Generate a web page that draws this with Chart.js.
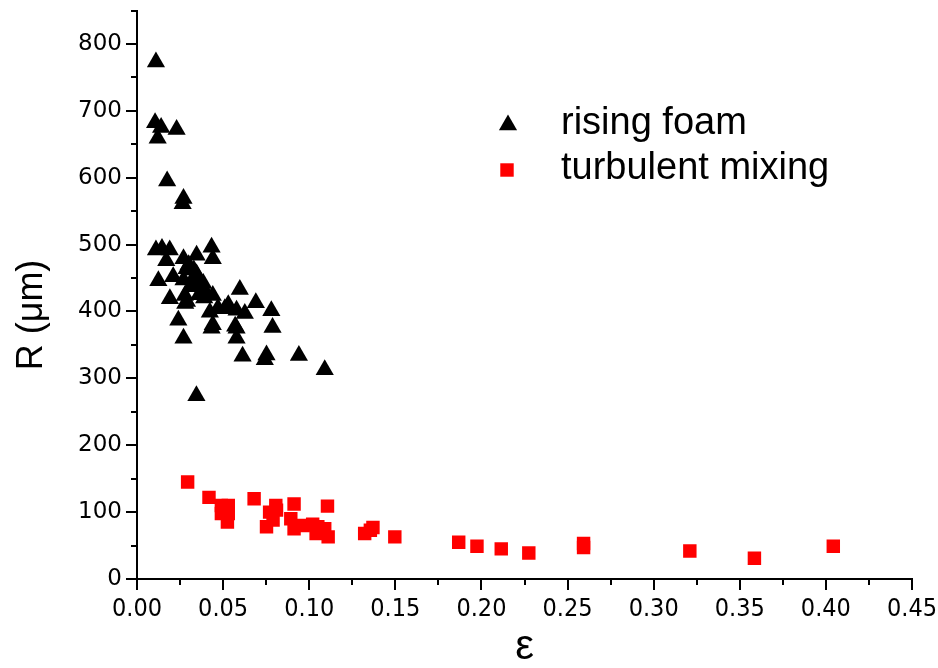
<!DOCTYPE html>
<html>
<head>
<meta charset="utf-8">
<script src="https://cdn.jsdelivr.net/npm/chart.js"></script>
<style>
  html, body { margin: 0; padding: 0; background: #fff; }
  #wrap { width: 938px; height: 668px; }
</style>
</head>
<body>
<div id="wrap"><canvas id="bubbleChart" width="938" height="668"></canvas></div>
<script>
// rising foam (black triangles)
const foamEps = [0.011, 0.0105, 0.014, 0.012, 0.023, 0.0175, 0.027, 0.0265, 0.011, 0.0145,
  0.019, 0.017, 0.027, 0.0346, 0.0433, 0.044, 0.0124, 0.021, 0.0288, 0.027,
  0.0346, 0.0191, 0.0278, 0.028, 0.0385, 0.0404, 0.044, 0.0423, 0.051, 0.0578,
  0.0626, 0.024, 0.0433, 0.0578, 0.0578, 0.027, 0.0597, 0.069, 0.078, 0.0787,
  0.0613, 0.0752, 0.0742, 0.094, 0.109, 0.0345, 0.031, 0.038, 0.0325, 0.029,
  0.044, 0.057, 0.033, 0.036, 0.030, 0.034, 0.039, 0.047, 0.053, 0.036];
const foamR = [773, 682, 675, 659, 672, 595, 569, 561, 492, 494,
  492, 476, 479, 484, 496, 479, 446, 452, 464, 447,
  456, 419, 424, 412, 442, 427, 424, 399, 404, 402,
  397, 387, 375, 375, 360, 360, 433, 413, 401, 376,
  333, 335, 328, 334, 313, 274, 437, 431, 449, 415,
  380, 378, 462, 440, 470, 445, 420, 405, 410, 425];

// turbulent mixing (red squares)
const mixEps = [0.0294, 0.0418, 0.049, 0.053, 0.049, 0.053, 0.0525, 0.068, 0.0806, 0.081,
  0.077, 0.079, 0.0752, 0.0912, 0.0893, 0.0912, 0.0965, 0.102, 0.105, 0.104,
  0.1106, 0.109, 0.111, 0.1322, 0.1355, 0.137, 0.1497, 0.1868, 0.1974, 0.2115,
  0.2275, 0.2593, 0.2593, 0.321, 0.3585, 0.4043];
const mixR = [145, 122, 110, 110, 98, 98, 85, 120, 110, 103,
  100, 88, 78, 112, 90, 75, 80, 82, 78, 68,
  109, 75, 63, 68, 73, 77, 63, 55, 49, 45,
  39, 53, 47, 42, 31, 49];

const seriesNames = ['rising foam', 'turbulent mixing'];
const xTitle = 'ε';
const yTitle = 'R (μm)';

function toPoints(xs, ys) {
  return xs.map((x, i) => ({ x: x, y: ys[i] }));
}

// kleine Zwischenstriche an beiden Achsen
const minorTicks = {
  id: 'minorTicks',
  afterDraw(chart) {
    const ctx = chart.ctx;
    const xs = chart.scales.x;
    const ys = chart.scales.y;
    ctx.save();
    ctx.strokeStyle = '#000';
    ctx.lineWidth = 2;
    ctx.beginPath();
    const xt = xs.ticks.map(t => t.value);
    for (let i = 0; i < xt.length - 1; i++) {
      const px = Math.round(xs.getPixelForValue((xt[i] + xt[i + 1]) / 2));
      ctx.moveTo(px, xs.top);
      ctx.lineTo(px, xs.top + 6);
    }
    const yt = ys.ticks.map(t => t.value);
    const step = yt[1] - yt[0];
    const mids = [];
    for (let i = 0; i < yt.length - 1; i++) mids.push((yt[i] + yt[i + 1]) / 2);
    mids.push(yt[yt.length - 1] + step / 2);
    mids.forEach(v => {
      const py = Math.round(ys.getPixelForValue(v));
      ctx.moveTo(ys.right, py);
      ctx.lineTo(ys.right - 6, py);
    });
    ctx.stroke();
    ctx.restore();
  }
};

function drawMarker(ctx, style, r, x, y) {
  ctx.beginPath();
  if (style === 'triangle') {
    let a = 0;
    ctx.moveTo(x + Math.sin(a) * r, y - Math.cos(a) * r);
    a += Math.PI * 2 / 3;
    ctx.lineTo(x + Math.sin(a) * r, y - Math.cos(a) * r);
    a += Math.PI * 2 / 3;
    ctx.lineTo(x + Math.sin(a) * r, y - Math.cos(a) * r);
    ctx.closePath();
  } else {
    const s = Math.SQRT1_2 * r;
    ctx.rect(x - s, y - s, 2 * s, 2 * s);
  }
  ctx.fill();
}

// Legende im Plotbereich und y-Achsentitel
const innerLegend = {
  id: 'innerLegend',
  afterDraw(chart) {
    const ctx = chart.ctx;
    ctx.save();
    const rows = [
      { mx: 508, my: 125, ty: 134 },
      { mx: 507, my: 170, ty: 179 }
    ];
    chart.data.datasets.forEach((ds, i) => {
      const r = rows[i];
      ctx.fillStyle = ds.backgroundColor;
      drawMarker(ctx, ds.pointStyle, ds.pointRadius, r.mx, r.my);
      ctx.fillStyle = '#000';
      ctx.font = '38px "Liberation Sans", Arial, sans-serif';
      ctx.textBaseline = 'alphabetic';
      ctx.textAlign = 'left';
      ctx.fillText(ds.label, 561, r.ty);
    });

    ctx.translate(42, 315);
    ctx.rotate(-Math.PI / 2);
    ctx.textAlign = 'center';
    ctx.textBaseline = 'alphabetic';
    ctx.font = '36px "Liberation Sans", Arial, sans-serif';
    ctx.fillText(yTitle, 0, 0);
    ctx.restore();
  }
};

const ctx = document.getElementById('bubbleChart');

new Chart(ctx, {
  type: 'scatter',
  data: {
    datasets: [{
      label: seriesNames[0],
      data: toPoints(foamEps, foamR),
      pointStyle: 'triangle',
      pointRadius: 10.5,
      borderWidth: 0,
      backgroundColor: '#000000',
      borderColor: '#000000'
    }, {
      label: seriesNames[1],
      data: toPoints(mixEps, mixR),
      pointStyle: 'rect',
      pointRadius: 9.5,
      borderWidth: 0,
      backgroundColor: '#ff0000',
      borderColor: '#ff0000'
    }]
  },
  options: {
    responsive: false,
    animation: false,
    layout: { padding: { top: 10, right: 26, left: 0, bottom: 0 } },
    plugins: {
      legend: { display: false },
      tooltip: { enabled: false }
    },
    scales: {
      x: {
        type: 'linear',
        min: 0,
        max: 0.45,
        afterFit(scale) {
          scale.height = 89;
          scale.paddingLeft = 0;
          scale.paddingRight = 0;
        },
        border: { display: true, color: '#000', width: 2 },
        grid: { drawOnChartArea: false, drawTicks: true, tickLength: 11, color: '#000', lineWidth: 2 },
        ticks: {
          stepSize: 0.05,
          padding: 4,
          color: '#000',
          maxRotation: 0,
          autoSkip: false,
          font: { family: '"Liberation Sans Narrow", "DejaVu Sans Condensed", sans-serif', size: 25 },
          callback: v => Number(v).toFixed(2)
        },
        title: {
          display: true,
          text: xTitle,
          color: '#000',
          font: { family: '"Liberation Sans", Arial, sans-serif', size: 42, lineHeight: 1 },
          padding: { top: 0, bottom: 0 }
        }
      },
      y: {
        type: 'linear',
        min: 0,
        max: 850,
        afterFit(scale) {
          scale.width = 137;
          scale.paddingTop = 0;
          scale.paddingBottom = 0;
        },
        border: { display: true, color: '#000', width: 2 },
        grid: { drawOnChartArea: false, drawTicks: true, tickLength: 11, color: '#000', lineWidth: 2 },
        ticks: {
          stepSize: 100,
          includeBounds: false,
          padding: 4,
          color: '#000',
          font: { family: '"DejaVu Sans", sans-serif', size: 23 }
        }
      }
    }
  },
  plugins: [minorTicks, innerLegend]
});
</script>
</body>
</html>
